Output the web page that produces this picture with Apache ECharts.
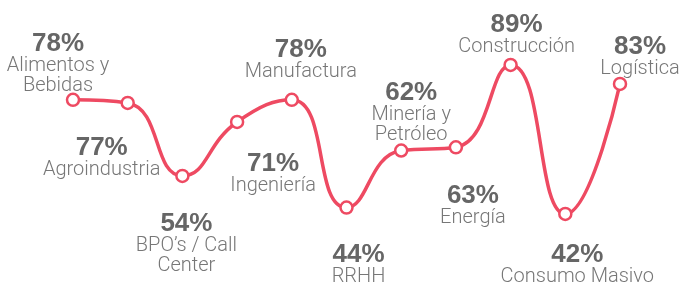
<!DOCTYPE html>
<html>
<head>
<meta charset="utf-8">
<script src="https://cdn.jsdelivr.net/npm/echarts@6/dist/echarts.min.js"></script>
<style>
  html, body { margin: 0; padding: 0; background: #fff; }
  #chart { width: 681px; height: 291px; }
</style>
</head>
<body>
<div id="chart"></div>
<script>
// sectores y porcentajes
const categories = ['Alimentos y\nBebidas', 'Agroindustria', 'BPO’s / Call\nCenter', 'Ingeniería', 'Manufactura',
  'RRHH', 'Minería y\nPetróleo', 'Energía', 'Construcción', 'Consumo Masivo', 'Logística']
const values = [78, 77, 54, 71, 78, 44, 62, 63, 89, 42, 83]

// donde va cada etiqueta (arriba / abajo) y su ajuste
const labelPos = ['top', 'bottom', 'bottom', 'bottom', 'top', 'bottom', 'top', 'bottom', 'top', 'bottom', 'top']
const labelShift = [[-15, 8], [-26, 21], [4, 24], [36, 18], [9, -6], [12, 23], [10, 7], [17, 24], [6, 4], [12, 17], [20, 7]]

const red = '#ee4a62'

const chart = echarts.init(document.getElementById('chart'))

const seriesData = values.map((v, i) => ({
    value: v,
    label: {
        position: labelPos[i],
        offset: labelShift[i]
    }
}))

const option = {
    animation: false,
    grid: { left: 73, right: 61, top: 30, height: 222 },
    xAxis: {
        type: 'category',
        data: categories,
        boundaryGap: false,
        show: false
    },
    yAxis: {
        type: 'value',
        min: 30,
        max: 100,
        show: false
    },
    series: [{
        type: 'line',
        data: seriesData,
        smooth: 0.5,
        symbol: 'circle',
        symbolSize: 12,
        lineStyle: { color: red, width: 3.5 },
        itemStyle: { color: '#fff', borderColor: red, borderWidth: 2.5 },
        label: {
            show: true,
            distance: 5,
            align: 'center',
            formatter: (p) => {
                const name = categories[p.dataIndex].split('\n').map(s => '{n|' + s + '}').join('\n')
                return '{v|' + p.value + '%}\n' + name
            },
            rich: {
                v: { fontFamily: 'Liberation Sans', fontWeight: 'bold', fontSize: 26, color: '#666', lineHeight: 24, align: 'center' },
                n: { fontFamily: 'Roboto', fontWeight: 300, fontSize: 20, color: '#777', lineHeight: 20, align: 'center' }
            }
        }
    }]
}

chart.setOption(option)
</script>
</body>
</html>
